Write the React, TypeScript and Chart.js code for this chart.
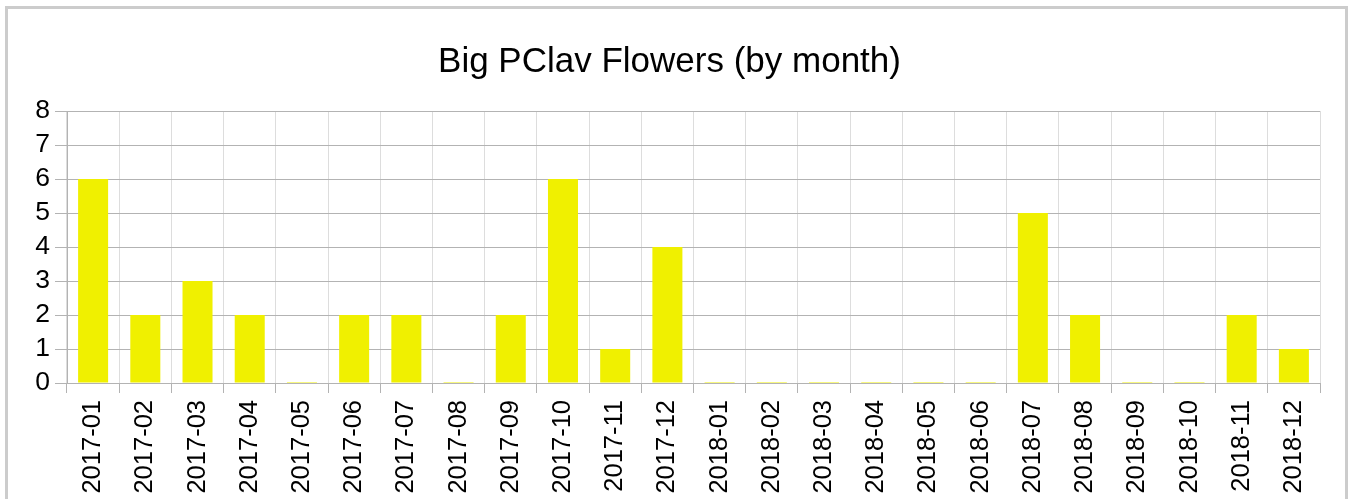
import React, { useEffect, useRef } from "react";
import { Chart, registerables } from "chart.js";

Chart.register(...registerables);

const months: string[] = [
  "2017-01", "2017-02", "2017-03", "2017-04", "2017-05", "2017-06",
  "2017-07", "2017-08", "2017-09", "2017-10", "2017-11", "2017-12",
  "2018-01", "2018-02", "2018-03", "2018-04", "2018-05", "2018-06",
  "2018-07", "2018-08", "2018-09", "2018-10", "2018-11", "2018-12",
];
const flowers: number[] = [6, 2, 3, 2, 0, 2, 2, 0, 2, 6, 1, 4, 0, 0, 0, 0, 0, 0, 5, 2, 0, 0, 2, 1];
const chartTitle = "Big PClav Flowers (by month)";
const yMin = 0;
const yMax = 8;

export default function App() {
  const ref = useRef<HTMLCanvasElement | null>(null);
  useEffect(() => {
    if (!ref.current) return;
    const chart = new Chart(ref.current, {
      type: "bar",
      data: {
        labels: months,
        datasets: [
          {
            data: flowers,
            backgroundColor: "#f0f000",
            borderWidth: 0,
            barPercentage: 0.575,
            categoryPercentage: 1,
            minBarLength: 1,
          },
        ],
      },
      options: {
        animation: false,
        responsive: false,
        maintainAspectRatio: false,
        layout: { padding: { left: 19, right: 30, top: 0, bottom: 0 } },
        plugins: {
          legend: { display: false },
          tooltip: { enabled: false },
          title: {
            display: true,
            text: chartTitle,
            color: "#000",
            font: { family: "Liberation Sans", size: 35, weight: "normal", lineHeight: 1.2 },
            padding: { top: 41, bottom: 28 },
          },
        },
        scales: {
          x: {
            offset: true,
            grid: {
              color: "#dddddd",
              tickColor: "#b3b3b3",
              tickLength: 10,
              offset: true,
            },
            border: { color: "#b3b3b3" },
            ticks: {
              color: "#000",
              font: { family: "Liberation Sans", size: 25.5 },
              minRotation: 90,
              maxRotation: 90,
              padding: 7,
              autoSkip: false,
            },
            afterFit: (s: any) => {
              s.height = 116;
            },
          },
          y: {
            min: yMin,
            max: yMax,
            grid: { color: "#b3b3b3", tickColor: "#b3b3b3", tickLength: 12 },
            border: { color: "#b3b3b3" },
            ticks: {
              stepSize: 1,
              autoSkip: false,
              color: "#000",
              font: { family: "Liberation Sans", size: 26.5 },
              padding: 5,
            },
            afterFit: (s: any) => {
              s.width = 48;
            },
          },
        },
      },
    });
    return () => chart.destroy();
  }, []);
  return (
    <div style={{ position: "absolute", left: 0, top: 0, width: 1350, height: 499, background: "#fff", overflow: "hidden" }}>
      <div
        style={{
          position: "absolute",
          left: 5,
          top: 6,
          width: 1337,
          height: 520,
          border: "3px solid #cccccc",
        }}
      />
      <canvas ref={ref} width={1350} height={499} style={{ position: "absolute", left: 0, top: 0 }} />
    </div>
  );
}
